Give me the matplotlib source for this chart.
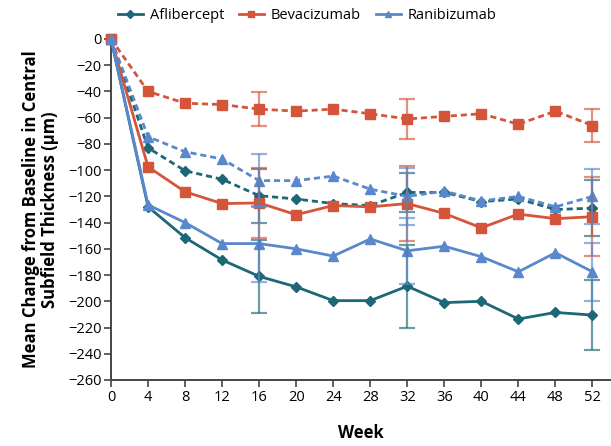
import matplotlib
matplotlib.use("Agg")
import matplotlib.pyplot as plt
from matplotlib.lines import Line2D

weeks = [0, 4, 8, 12, 16, 20, 24, 28, 32, 36, 40, 44, 48, 52]

# solid = one group, dashed = other group
afl_solid = [0, -128, -151.5, -168.5, -181, -189, -199.5, -199.5, -188.5, -201, -200, -213.5, -208.5, -210.5]
afl_dash = [0, -83, -100.5, -107, -119.5, -122, -125.5, -127, -117, -117, -124, -122, -130, -129]
bev_solid = [0, -97.5, -116.5, -125.5, -125, -134, -127, -128, -125.5, -133, -144, -133.5, -137, -135.5]
bev_dash = [0, -40, -49, -50, -53.5, -55, -53.5, -57, -61, -59, -57, -65, -55, -66]
ran_solid = [0, -126.5, -140, -156, -156, -160, -165.5, -152.5, -161.5, -158, -166, -177.5, -163, -177.5]
ran_dash = [0, -74.5, -86, -91.5, -108, -108, -104.5, -114.5, -120, -116, -123.5, -120, -128, -120]

# error bars only at weeks 16, 32, 52
err_weeks = [16, 32, 52]
afl_solid_err = [28, 31.5, 27]
afl_dash_err = [20.5, 15, 21.5]
bev_solid_err = [27, 28.5, 30]
bev_dash_err = [13, 15, 12.5]
ran_solid_err = [29, 25, 22]
ran_dash_err = [20, 21.5, 21]

c_afl = "#1d6777"
c_bev = "#d4553a"
c_ran = "#5a88cc"

plt.rcParams['font.family'] = ['Open Sans', 'DejaVu Sans']

fig = plt.figure(figsize=(6.11, 4.46), dpi=100)
ax = fig.add_axes([0.1817, 0.148, 0.8183, 0.7646])

series = [
    (afl_solid, afl_solid_err, c_afl, "D", "-", 5.5),
    (afl_dash, afl_dash_err, c_afl, "D", (0, (2.2, 1.4)), 5.5),
    (bev_solid, bev_solid_err, c_bev, "s", "-", 6.5),
    (bev_dash, bev_dash_err, c_bev, "s", (0, (2.2, 1.4)), 6.5),
    (ran_solid, ran_solid_err, c_ran, "^", "-", 7.5),
    (ran_dash, ran_dash_err, c_ran, "^", (0, (2.2, 1.4)), 7.5),
]

for vals, errs, col, mk, ls, ms in series:
    ax.plot(weeks, vals, color=col, linestyle=ls, linewidth=2, marker=mk,
            markersize=ms, clip_on=False, zorder=3)
    ev = [vals[weeks.index(w)] for w in err_weeks]
    ax.errorbar(err_weeks, ev, yerr=errs, fmt="none", ecolor=col, alpha=0.65,
                elinewidth=1.6, capsize=6, capthick=1.6, zorder=4)

ax.set_xlim(0, 54)
ax.set_ylim(-260, 0)
ax.set_xticks(weeks)
ax.set_yticks(range(-260, 1, 20))
ax.set_yticklabels([str(v).replace("-", "\u2212") for v in range(-260, 1, 20)])
ax.tick_params(labelsize=10.5, length=5, width=1.2, color="#444444", pad=2)
for s in ["top", "right"]:
    ax.spines[s].set_visible(False)
for s in ["left", "bottom"]:
    ax.spines[s].set_color("#444444")
    ax.spines[s].set_linewidth(1.4)

ax.set_xlabel("Week", fontsize=12, fontweight="bold", labelpad=14)
ax.set_ylabel("Mean Change from Baseline in Central\nSubfield Thickness (\u03bcm)",
              fontsize=12, fontweight="bold", labelpad=6, linespacing=1.1)

handles = [Line2D([], [], color=c_afl, marker="D", markersize=4, linewidth=2),
           Line2D([], [], color=c_bev, marker="s", markersize=4, linewidth=2),
           Line2D([], [], color=c_ran, marker="^", markersize=5, linewidth=2)]
fig.legend(handles, ["Aflibercept", "Bevacizumab", "Ranibizumab"], ncol=3,
           frameon=False, loc="center", bbox_to_anchor=(0.503, 0.965),
           fontsize=10.5, handlelength=1.7, columnspacing=1.0, handletextpad=0.5)

fig.savefig("out.png", dpi=100)
